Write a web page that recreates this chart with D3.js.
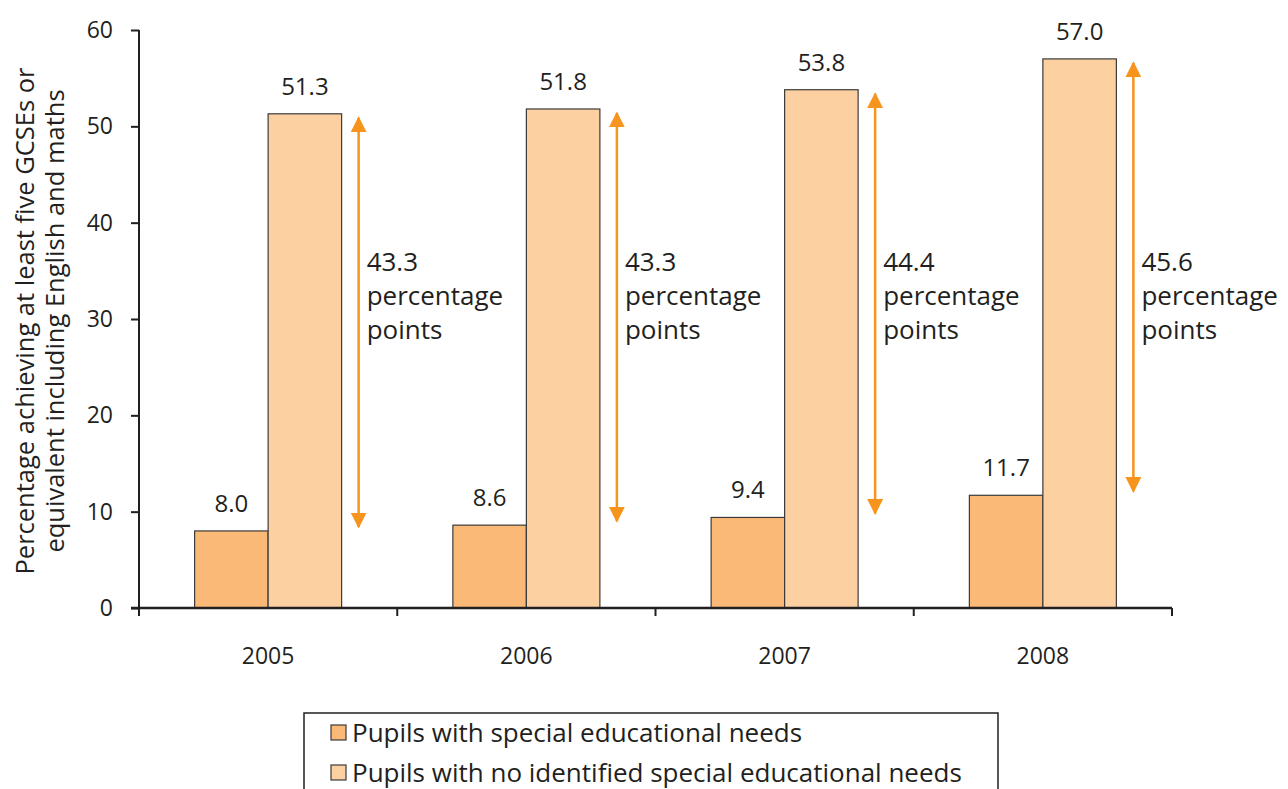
<!DOCTYPE html>
<html><head><meta charset="utf-8">
<script src="https://cdn.jsdelivr.net/npm/d3@7"></script>
<style>body{margin:0;background:#fff}svg{display:block}text{font-family:"Open Sans",sans-serif;fill:#231f20}</style>
</head><body><svg id="c" width="1288" height="789"></svg>
<script>
const years = ["2005","2006","2007","2008"];
const senValues = [8.0, 8.6, 9.4, 11.7];
const noSenValues = [51.3, 51.8, 53.8, 57.0];
const gapLabels = ["43.3", "43.3", "44.4", "45.6"];
const yTicks = [0,10,20,30,40,50,60];
const seriesNames = ["Pupils with special educational needs","Pupils with no identified special educational needs"];
const colors = ["#fbb978","#fdd0a2"];
const arrowColor = "#f7941d";

const svg = d3.select("#c");
const x0 = 139, x1 = 1172, yTop = 30, yBot = 608;
const x = d3.scaleBand().domain(years).range([x0,x1]).paddingInner(0).paddingOuter(0);
const y = d3.scaleLinear().domain([0,60]).range([yBot,yTop]);
const bw = 73.5;

svg.append("defs").append("marker").attr("id","ah").attr("viewBox","0 0 10 10")
  .attr("refX",9).attr("refY",5).attr("markerWidth",16).attr("markerHeight",16).attr("markerUnits","userSpaceOnUse")
  .attr("orient","auto-start-reverse")
  .append("path").attr("d","M0,0 L10,5 L0,10 Z").attr("fill",arrowColor);

years.forEach((yr,i)=>{
  const cx = x(yr) + x.bandwidth()/2;
  const vals = [senValues[i], noSenValues[i]];
  vals.forEach((v,j)=>{
    const bx = cx - bw + j*bw;
    svg.append("rect").attr("x",bx).attr("y",y(v)).attr("width",bw).attr("height",y(0)-y(v))
      .attr("fill",colors[j]).attr("stroke","#3a3a3a").attr("stroke-width",1.2);
    svg.append("text").attr("x",bx+bw/2).attr("y",y(v)-19).attr("text-anchor","middle")
      .attr("font-size",24).text(v.toFixed(1));
  });
  const ax = cx + bw + 17;
  svg.append("line").attr("x1",ax).attr("x2",ax).attr("y1",y(senValues[i])-4).attr("y2",y(noSenValues[i])+4)
    .attr("stroke",arrowColor).attr("stroke-width",2.5)
    .attr("marker-start","url(#ah)").attr("marker-end","url(#ah)");
  const t = svg.append("text").attr("x",ax+8).attr("y",271).attr("font-size",26);
  [gapLabels[i],"percentage","points"].forEach((s,k)=>{
    t.append("tspan").attr("x",ax+8).attr("dy",k?34:0).text(s);
  });
});

// axes
const yAxis = d3.axisLeft(y).tickValues(yTicks).tickSize(8).tickPadding(18);
const gy = svg.append("g").attr("transform",`translate(${x0},0)`).call(yAxis);
gy.select(".domain").attr("stroke","#231f20").attr("stroke-width",2).attr("d",`M0,${yTop}V${yBot}`);
gy.selectAll(".tick line").attr("stroke","#231f20").attr("stroke-width",2).attr("x1",-8).attr("x2",0);
gy.selectAll(".tick text").attr("font-size",23).attr("font-family","Open Sans").attr("fill","#231f20");

const xb = d3.scaleOrdinal().domain([...years]).range(years.map(yr=>x(yr)+x.bandwidth()/2));
svg.append("line").attr("x1",x0-8).attr("x2",x1).attr("y1",yBot).attr("y2",yBot).attr("stroke","#231f20").attr("stroke-width",2.5);
const bounds = [x0, ...years.map(yr=>x(yr)+x.bandwidth())];
bounds.forEach(b=>svg.append("line").attr("x1",b).attr("x2",b).attr("y1",yBot).attr("y2",yBot+8).attr("stroke","#231f20").attr("stroke-width",2));
years.forEach(yr=>svg.append("text").attr("x",xb(yr)).attr("y",664).attr("text-anchor","middle").attr("font-size",23).text(yr));

// y title
const yt = svg.append("text").attr("transform","translate(34,321) rotate(-90)").attr("text-anchor","middle").attr("font-size",25.5);
yt.append("tspan").attr("x",0).attr("dy",0).text("Percentage achieving at least five GCSEs or");
yt.append("tspan").attr("x",0).attr("dy",30).text("equivalent including English and maths");

// legend
svg.append("rect").attr("x",304).attr("y",713).attr("width",694).attr("height",100).attr("fill","none").attr("stroke","#231f20").attr("stroke-width",1.5);
seriesNames.forEach((n,i)=>{
  const ly = 733 + i*40;
  svg.append("rect").attr("x",331).attr("y",ly-8).attr("width",15).attr("height",15).attr("fill",colors[i]).attr("stroke","#3a3a3a").attr("stroke-width",1.2);
  svg.append("text").attr("x",352).attr("y",ly+9).attr("font-size",26).text(n);
});
</script></body></html>
